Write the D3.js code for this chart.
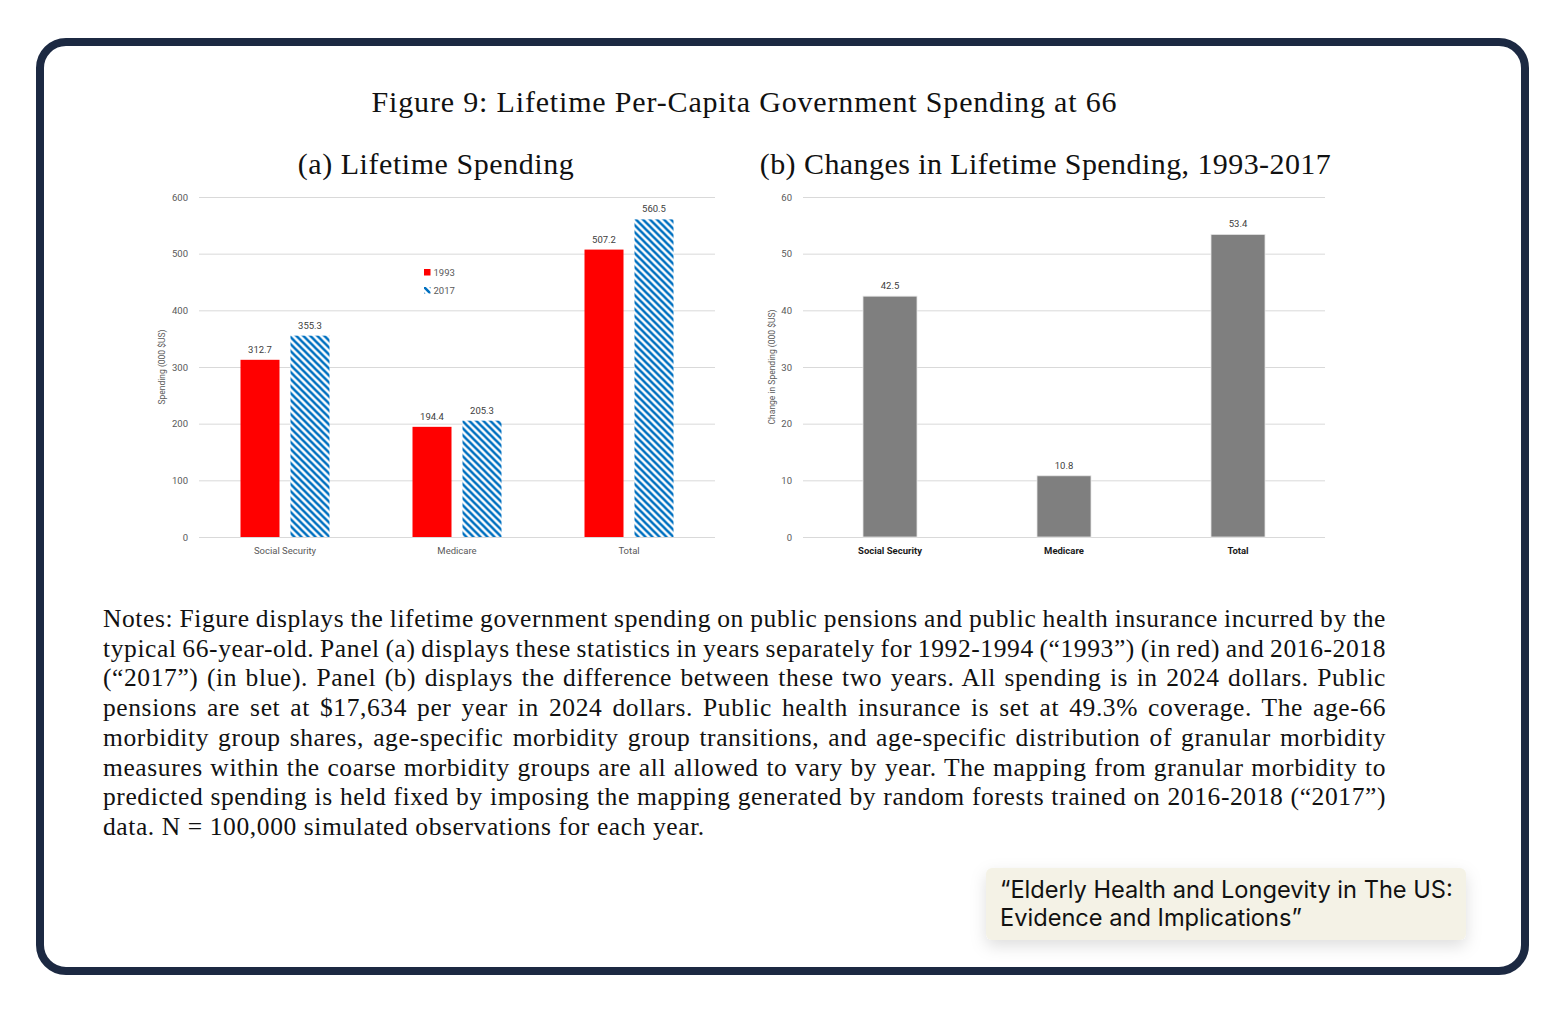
<!DOCTYPE html>
<html><head><meta charset="utf-8">
<script src="https://cdn.jsdelivr.net/npm/d3@7"></script>
<style>body{margin:0;background:#fff}</style>
</head><body>
<svg id="c" width="1564" height="1011"></svg>
<script>
// ---------- data ----------
const categories = ["Social Security", "Medicare", "Total"];
const seriesNames = ["1993", "2017"];
const spending1993 = [312.7, 194.4, 507.2];
const spending2017 = [355.3, 205.3, 560.5];
const changeSpending = [42.5, 10.8, 53.4];
const ticksA = [0, 100, 200, 300, 400, 500, 600];
const ticksB = [0, 10, 20, 30, 40, 50, 60];
const figureTitle = "Figure 9: Lifetime Per-Capita Government Spending at 66";
const panelTitleA = "(a) Lifetime Spending";
const panelTitleB = "(b) Changes in Lifetime Spending, 1993-2017";
const axisTitleA = "Spending (000 $US)";
const axisTitleB = "Change in Spending (000 $US)";
const notesLines = [
  "Notes: Figure displays the lifetime government spending on public pensions and public health insurance incurred by the",
  "typical 66-year-old. Panel (a) displays these statistics in years separately for 1992-1994 (“1993”) (in red) and 2016-2018",
  "(“2017”) (in blue). Panel (b) displays the difference between these two years. All spending is in 2024 dollars. Public",
  "pensions are set at $17,634 per year in 2024 dollars. Public health insurance is set at 49.3% coverage. The age-66",
  "morbidity group shares, age-specific morbidity group transitions, and age-specific distribution of granular morbidity",
  "measures within the coarse morbidity groups are all allowed to vary by year. The mapping from granular morbidity to",
  "predicted spending is held fixed by imposing the mapping generated by random forests trained on 2016-2018 (“2017”)",
  "data. N = 100,000 simulated observations for each year."
];
const calloutLines = ["“Elderly Health and Longevity in The US:", "Evidence and Implications”"];

// ---------- setup ----------
const svg = d3.select("#c");
const SERIF = "'Liberation Serif', 'Times New Roman', serif";
const SANS = "Roboto, 'Liberation Sans', sans-serif";
const RED = "#ff0000", BLUE = "#0070c0", GRAY = "#7f7f7f", GRID = "#d9d9d9";

const defs = svg.append("defs");
const pat = defs.append("pattern").attr("id", "hatch").attr("patternUnits", "userSpaceOnUse")
  .attr("width", 7).attr("height", 7);
pat.append("rect").attr("width", 7).attr("height", 7).attr("fill", "#fff");
pat.append("path").attr("d", "M-2,-2 L9,9 M-2,5 L2,9 M5,-2 L9,2")
  .attr("stroke", BLUE).attr("stroke-width", 2.6);
const f = defs.append("filter").attr("id", "shadow").attr("x", "-20%").attr("y", "-30%").attr("width", "140%").attr("height", "180%");
f.append("feDropShadow").attr("dx", 0).attr("dy", 6).attr("stdDeviation", 8).attr("flood-color", "#000").attr("flood-opacity", 0.13);

// frame
svg.append("rect").attr("x", 40).attr("y", 42).attr("width", 1485).attr("height", 929)
  .attr("rx", 26).attr("fill", "#fff").attr("stroke", "#1c2942").attr("stroke-width", 8);

function fitText(sel, target) {
  const n = sel.text().length;
  const L = sel.node().getComputedTextLength();
  sel.attr("letter-spacing", (target - L) / Math.max(1, n - 1));
}

// titles
const t0 = svg.append("text").attr("x", 744.5).attr("y", 112).attr("text-anchor", "middle")
  .attr("font-family", SERIF).attr("font-size", 30).attr("fill", "#111").text(figureTitle);
fitText(t0, 745);
const ta = svg.append("text").attr("x", 436).attr("y", 174).attr("text-anchor", "middle")
  .attr("font-family", SERIF).attr("font-size", 30).attr("fill", "#111").text(panelTitleA);
fitText(ta, 276);
const tb = svg.append("text").attr("x", 1045.5).attr("y", 174).attr("text-anchor", "middle")
  .attr("font-family", SERIF).attr("font-size", 30).attr("fill", "#111").text(panelTitleB);
fitText(tb, 571);

// ---------- panel a ----------
const yA = d3.scaleLinear().domain([0, 600]).range([537, 197]);
const xA = d3.scaleBand().domain(categories).range([199, 715]).paddingInner(0).paddingOuter(0);
const xA1 = d3.scaleBand().domain(seriesNames).range([0, 89]).paddingInner(0.22);
const gA = svg.append("g");
gA.append("g").attr("transform", "translate(199,0)")
  .call(d3.axisLeft(yA).tickValues(ticksA).tickSize(-(715 - 199)).tickPadding(11))
  .call(g => { g.select(".domain").remove();
    g.selectAll(".tick line").attr("stroke", GRID);
    g.selectAll(".tick text").attr("font-family", SANS).attr("font-size", 9.5).attr("fill", "#595959"); });
const rowsA = categories.map((c, i) => ({ c, vals: [spending1993[i], spending2017[i]] }));
const grpA = gA.selectAll(".grp").data(rowsA).join("g")
  .attr("transform", d => `translate(${xA(d.c) + xA.bandwidth() / 2 - 44.5},0)`);
grpA.selectAll("rect").data(d => d.vals.map((v, j) => ({ s: seriesNames[j], v }))).join("rect")
  .attr("x", d => xA1(d.s)).attr("width", xA1.bandwidth())
  .attr("y", d => yA(d.v)).attr("height", d => yA(0) - yA(d.v))
  .attr("fill", d => d.s === "1993" ? RED : "url(#hatch)");
grpA.selectAll("text").data(d => d.vals.map((v, j) => ({ s: seriesNames[j], v }))).join("text")
  .attr("x", d => xA1(d.s) + xA1.bandwidth() / 2).attr("y", d => yA(d.v) - 7)
  .attr("text-anchor", "middle").attr("font-family", SANS).attr("font-size", 9.5).attr("fill", "#404040")
  .text(d => d.v.toFixed(1));
gA.append("g").attr("transform", "translate(0,537)")
  .call(d3.axisBottom(xA).tickSize(0).tickPadding(10))
  .call(g => { g.select(".domain").remove();
    g.selectAll(".tick text").attr("font-family", SANS).attr("font-size", 9.5).attr("fill", "#595959"); });
gA.append("text").attr("transform", "translate(165,367) rotate(-90)").attr("text-anchor", "middle")
  .attr("font-family", SANS).attr("font-size", 8.5).attr("fill", "#595959").text(axisTitleA);
// legend
const leg = gA.append("g").selectAll("g").data(seriesNames).join("g")
  .attr("transform", (d, i) => `translate(424,${269 + i * 18})`);
leg.append("rect").attr("width", 6.5).attr("height", 6.5)
  .attr("fill", d => d === "1993" ? RED : "url(#hatch)");
leg.append("text").attr("x", 9.5).attr("y", 3.3).attr("dy", "0.35em")
  .attr("font-family", SANS).attr("font-size", 9.5).attr("fill", "#595959").text(d => d);

// ---------- panel b ----------
const yB = d3.scaleLinear().domain([0, 60]).range([537, 197]);
const xB = d3.scaleBand().domain(categories).range([803, 1325]);
const gB = svg.append("g");
gB.append("g").attr("transform", "translate(803,0)")
  .call(d3.axisLeft(yB).tickValues(ticksB).tickSize(-(1325 - 803)).tickPadding(11))
  .call(g => { g.select(".domain").remove();
    g.selectAll(".tick line").attr("stroke", GRID);
    g.selectAll(".tick text").attr("font-family", SANS).attr("font-size", 9.5).attr("fill", "#595959"); });
const rowsB = categories.map((c, i) => ({ c, v: changeSpending[i] }));
const bw = 54;
gB.selectAll(".bar").data(rowsB).join("rect")
  .attr("x", d => xB(d.c) + xB.bandwidth() / 2 - bw / 2).attr("width", bw)
  .attr("y", d => yB(d.v)).attr("height", d => yB(0) - yB(d.v))
  .attr("fill", GRAY).attr("stroke", "#e6e6e6").attr("stroke-width", 0.8);
gB.selectAll(".lbl").data(rowsB).join("text")
  .attr("x", d => xB(d.c) + xB.bandwidth() / 2).attr("y", d => yB(d.v) - 7)
  .attr("text-anchor", "middle").attr("font-family", SANS).attr("font-size", 9.5).attr("fill", "#404040")
  .text(d => d.v.toFixed(1));
gB.append("g").attr("transform", "translate(0,537)")
  .call(d3.axisBottom(xB).tickSize(0).tickPadding(10))
  .call(g => { g.select(".domain").remove();
    g.selectAll(".tick text").attr("font-family", SANS).attr("font-size", 9.5)
      .attr("font-weight", "bold").attr("fill", "#1a1a1a"); });
gB.append("text").attr("transform", "translate(775,367) rotate(-90)").attr("text-anchor", "middle")
  .attr("font-family", SANS).attr("font-size", 8.5).attr("fill", "#595959").text(axisTitleB);

// ---------- notes ----------
const NX = 103, NW = 1283, NS = 25.5, LS = 0.6;
notesLines.forEach((line, i) => {
  const t = svg.append("text").attr("x", NX).attr("y", 627 + i * 29.7)
    .attr("font-family", SERIF).attr("font-size", NS).attr("fill", "#111")
    .attr("letter-spacing", LS).text(line);
  if (i < notesLines.length - 1) {
    const nsp = (line.match(/ /g) || []).length;
    let L = t.node().getComputedTextLength();
    let ws = (NW - L) / nsp;
    t.attr("word-spacing", ws);
    L = t.node().getComputedTextLength();
    ws += (NW - L) / nsp;
    t.attr("word-spacing", ws);
  }
});

// ---------- callout ----------
svg.append("rect").attr("x", 986).attr("y", 868).attr("width", 480).attr("height", 72)
  .attr("rx", 6).attr("fill", "#f4f2e6").attr("filter", "url(#shadow)");
const CF = "Inter, 'Noto Sans', sans-serif";
const probe = svg.append("text").attr("font-family", CF).attr("font-size", 20).text(calloutLines[0]);
const cSize = 20 * 453 / probe.node().getComputedTextLength();
probe.remove();
calloutLines.forEach((line, i) => {
  svg.append("text").attr("x", 1000).attr("y", 898 + i * 27.5)
    .attr("font-family", CF).attr("font-size", cSize).attr("fill", "#111").text(line);
});
</script>
</body></html>
